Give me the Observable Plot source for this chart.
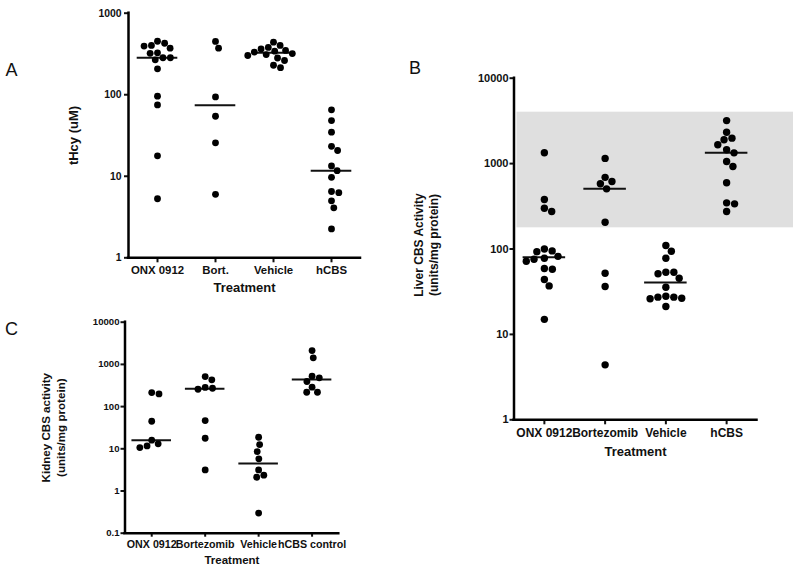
<!DOCTYPE html>
<html>
<head>
<meta charset="utf-8">
<script src="https://cdn.jsdelivr.net/npm/d3@7"></script>
<script src="https://cdn.jsdelivr.net/npm/@observablehq/plot@0.6"></script>
<style>
  html, body { margin: 0; padding: 0; background: #fff; }
  #chart { position: relative; width: 799px; height: 571px; overflow: hidden; }
  #chart svg { position: absolute; left: 0; top: 0; }
</style>
</head>
<body>
<div id="chart"></div>
<script>
// ---------------- Data ----------------
// Panel A: tHcy (uM)
const catsA = ["ONX 0912", "Bort.", "Vehicle", "hCBS"];
const onxA  = [453, 428, 402, 395, 372, 327, 322, 284, 284, 268, 208, 96, 75, 17.8, 5.3];
const bortA = [450, 372, 94, 54.5, 25.7, 6.0];
const vehA  = [441, 402, 380, 364, 349, 342, 334, 320, 311, 303, 282, 263, 230, 215];
const hcbsA = [65.3, 48.2, 34.7, 23.3, 20.7, 13.4, 11.7, 9.7, 6.5, 6.3, 5.0, 4.1, 2.26];
const ticksA = [1, 10, 100, 1000];

// Panel B: Liver CBS activity (units/mg protein)
const catsB = ["ONX 0912", "Bortezomib", "Vehicle", "hCBS"];
const onxB  = [1340, 380, 300, 275, 100, 95, 93, 82, 78, 76, 72, 59, 58, 44, 37, 15];
const bortB = [1150, 690, 617, 580, 506, 206, 52, 36.4, 4.4];
const vehB  = [110, 94, 78, 53.5, 53.5, 51.3, 45.5, 35.7, 28, 27.3, 27.3, 26.5, 26.1, 21.2];
const hcbsB = [3190, 2330, 1985, 1900, 1660, 1450, 1336, 1057, 925, 596, 347, 338, 275];
const normalRangeB = [177, 4000];
const ticksB = [1, 10, 100, 1000, 10000];

// Panel C: Kidney CBS activity (units/mg protein)
const catsC = ["ONX 0912", "Bortezomib", "Vehicle", "hCBS control"];
const onxC  = [215, 200, 45, 16, 13.1, 11.7, 10.7];
const bortC = [515, 430, 285, 272, 258, 46.7, 17.8, 3.16];
const vehC  = [18.8, 12.6, 8.6, 5.8, 3.16, 2.37, 2.12, 0.30];
const hcbsC = [2130, 1430, 525, 480, 393, 289, 219, 219];
const ticksC = [0.1, 1, 10, 100, 1000, 10000];

// ---------------- Layout helpers ----------------
const W = 799, H = 571;
const hasAxisMarks = typeof Plot.axisX === "function";

function swarm(values, gi, yS, ppu, r) {
  const D = 2 * r + 0.6;
  const pts = values.map(v => ({v, y: yS(v)})).sort((a, b) => b.v - a.v);
  const placed = [];
  const out = [];
  for (const p of pts) {
    const cands = [0];
    for (const q of placed) {
      const dy = Math.abs(q.y - p.y);
      if (dy < D) {
        const dx = Math.sqrt(D * D - dy * dy);
        cands.push(q.ox + dx, q.ox - dx);
      }
    }
    cands.sort((a, b) => Math.abs(a) - Math.abs(b) || b - a);
    p.ox = 0;
    for (const c of cands) {
      if (placed.every(q => Math.hypot(q.ox - c, q.y - p.y) >= D - 1e-6)) { p.ox = c; break; }
    }
    placed.push(p);
    out.push({group: gi, value: p.v, x: gi + p.ox / ppu});
  }
  return out;
}

function panel(cfg) {
  const {cats, series, ticks, domain, left, right, top, bottom, r, half} = cfg;
  const yS = d3.scaleLog().domain(domain).range([bottom, top]);
  const ppu = (right - left) / 4;
  const dots = series.flatMap((vals, i) => swarm(vals, i, yS, ppu, r));
  const meds = series.map((vals, i) => ({i, m: d3.median(vals)}));
  const xFmt = i => cats[i];
  const yFmt = d => String(d);
  const marks = [];
  if (cfg.band) {
    marks.push(Plot.rect([cfg.band], {y1: d => d[0], y2: d => d[1], fill: "#dfdfdf", insetLeft: 3, insetRight: cfg.bandExtend}));
  }
  if (hasAxisMarks) {
    marks.push(
      Plot.axisX({ticks: [0, 1, 2, 3], tickFormat: xFmt, tickSize: cfg.xTickSize, tickPadding: cfg.xTickPad, fontSize: cfg.xFont, strokeWidth: 2, label: null}),
      Plot.axisY({ticks, tickFormat: yFmt, tickSize: 4, tickPadding: cfg.yTickPad, fontSize: cfg.yFont, strokeWidth: 2, label: null})
    );
  }
  marks.push(
    Plot.ruleY(meds, {x1: d => d.i - half, x2: d => d.i + half, y: "m", stroke: "#111", strokeWidth: 2}),
    Plot.dot(dots, {x: "x", y: "value", r, fill: "#000", stroke: "none"}),
    Plot.ruleX([-0.5], {stroke: "#000", strokeWidth: 2.5, strokeLinecap: "square"}),
    Plot.ruleY([domain[0]], {stroke: "#000", strokeWidth: 2.5, strokeLinecap: "square"}),
    Plot.text([cfg.xTitle], {text: d => d, frameAnchor: "bottom", dy: cfg.xTitleDy, textAnchor: "middle", lineAnchor: "middle", fontSize: cfg.xTitleSize, fill: "#111"}),
    Plot.text([cfg.yTitle], {text: d => d, frameAnchor: "left", rotate: -90, dx: cfg.yTitleDx, dy: cfg.yTitleDy, textAnchor: "middle", lineAnchor: "middle", lineHeight: 1.3, fontSize: cfg.yTitleSize, fill: "#111"}),
    Plot.text([cfg.letter], {text: d => d, frameAnchor: "top-left", dx: cfg.letterDx, dy: cfg.letterDy, textAnchor: "middle", lineAnchor: "middle", fontSize: 18, fontWeight: "normal", fill: "#111"})
  );
  const xOpts = {domain: [-0.5, 3.5]};
  const yOpts = {type: "log", domain};
  if (!hasAxisMarks) {
    Object.assign(xOpts, {ticks: [0, 1, 2, 3], tickFormat: xFmt, tickSize: cfg.xTickSize, tickPadding: cfg.xTickPad, label: null});
    Object.assign(yOpts, {ticks, tickFormat: yFmt, tickSize: 4, tickPadding: cfg.yTickPad, label: null});
  }
  const svg = Plot.plot({
    width: W, height: H,
    marginLeft: left, marginRight: W - right, marginTop: top, marginBottom: H - bottom,
    style: {fontFamily: "'Liberation Sans', Arial, sans-serif", fontSize: "12px", fontWeight: "bold", background: "transparent", color: "#111", overflow: "visible"},
    x: xOpts,
    y: yOpts,
    marks
  });
  if (!hasAxisMarks) {
    svg.querySelectorAll('[aria-label="x-axis"] text').forEach(t => t.style.fontSize = cfg.xFont + "px");
    svg.querySelectorAll('[aria-label="y-axis"] text').forEach(t => t.style.fontSize = cfg.yFont + "px");
    svg.querySelectorAll('[aria-label$="axis"] line').forEach(l => l.style.strokeWidth = "2px");
  }
  return svg;
}

const chart = document.getElementById("chart");
chart.appendChild(panel({
  cats: catsA, series: [onxA, bortA, vehA, hcbsA], ticks: ticksA, domain: [1, 1000],
  left: 128, right: 360, top: 12.7, bottom: 257.3, r: 3.4, half: 0.35,
  xTickSize: 5, xTickPad: 3, yTickPad: 3, xFont: 11.4, yFont: 10.4,
  xTitle: "Treatment", xTitleDy: 30, xTitleSize: 13,
  yTitle: "tHcy (uM)", yTitleDx: -56, yTitleDy: 0, yTitleSize: 13,
  letter: "A", letterDx: -117, letterDy: 57
}));
chart.appendChild(panel({
  cats: catsB, series: [onxB, bortB, vehB, hcbsB], ticks: ticksB, domain: [1, 10000],
  left: 513.5, right: 756.5, top: 77.7, bottom: 419.3, r: 3.7, half: 0.35,
  band: normalRangeB, bandExtend: -36.5,
  xTickSize: 5, xTickPad: 4, yTickPad: 1.5, xFont: 12, yFont: 11,
  xTitle: "Treatment", xTitleDy: 32, xTitleSize: 13,
  yTitle: "Liver CBS Activity\n(units/mg protein)", yTitleDx: -88.5, yTitleDy: -4, yTitleSize: 12,
  letter: "B", letterDx: -99, letterDy: -9.7
}));
chart.appendChild(panel({
  cats: catsC, series: [onxC, bortC, vehC, hcbsC], ticks: ticksC, domain: [0.1, 10000],
  left: 124.5, right: 338.3, top: 321.7, bottom: 532.7, r: 3.4, half: 0.37,
  xTickSize: 4, xTickPad: 3, yTickPad: 1.5, xFont: 10.7, yFont: 9.6,
  xTitle: "Treatment", xTitleDy: 27.3, xTitleSize: 11.5,
  yTitle: "Kidney CBS activity\n(units/mg protein)", yTitleDx: -72, yTitleDy: 0, yTitleSize: 11.6,
  letter: "C", letterDx: -113.5, letterDy: 7.1
}));
</script>
</body>
</html>
